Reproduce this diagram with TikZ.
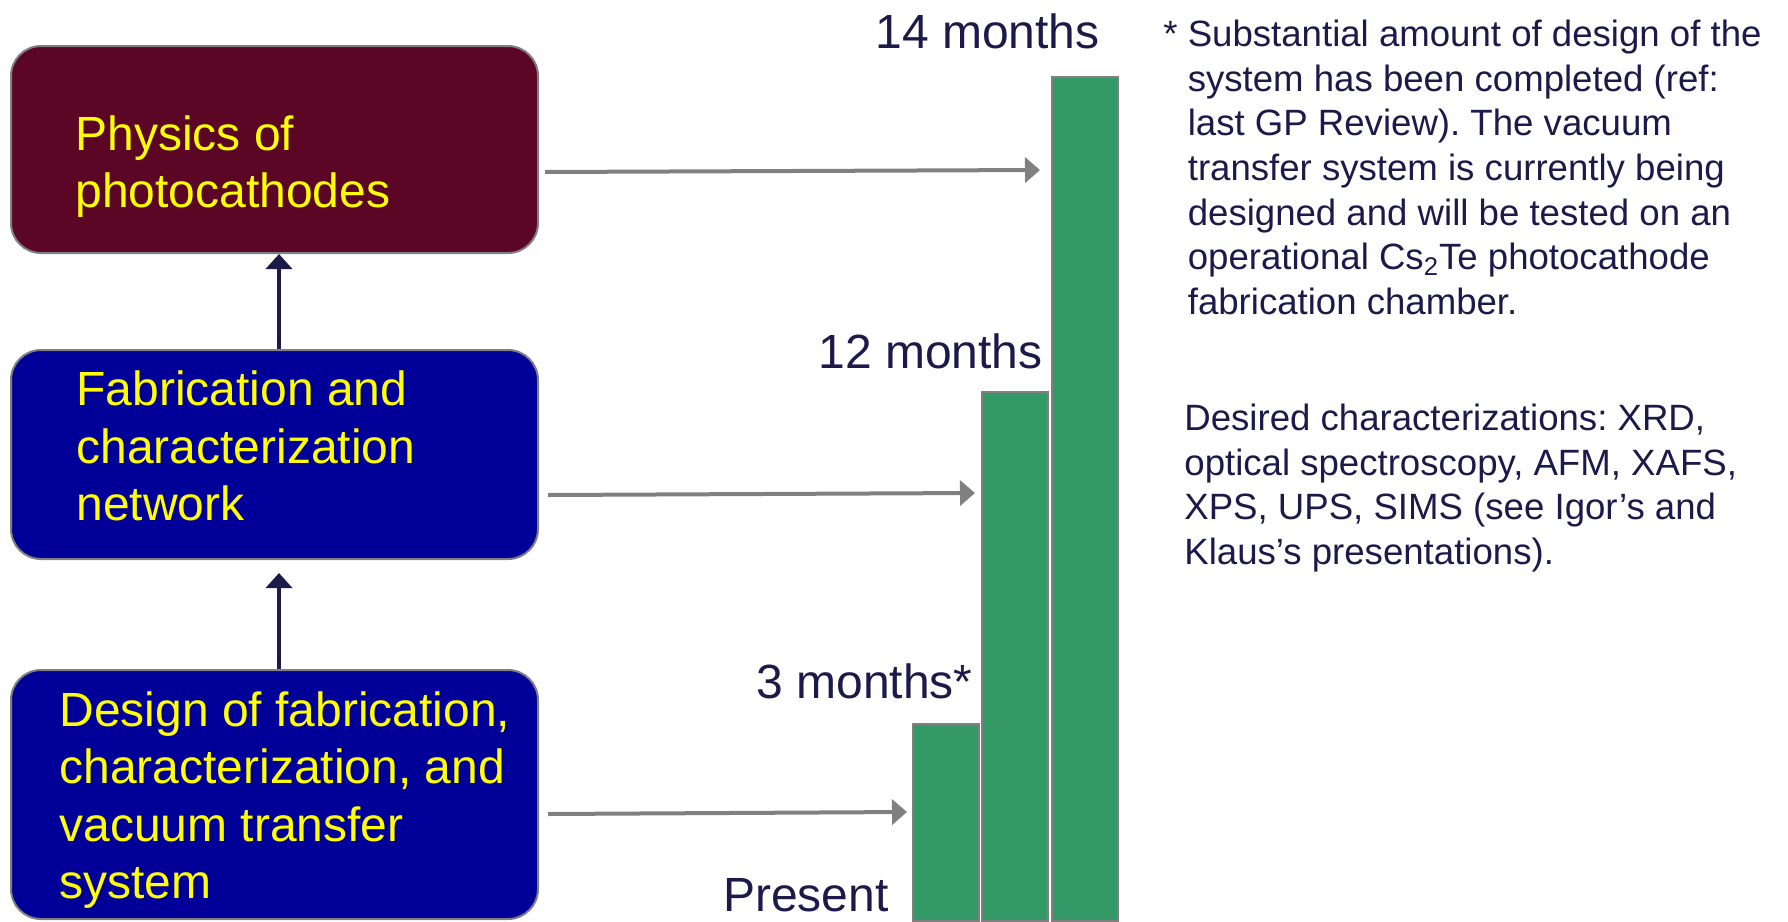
\documentclass[tikz,border=0pt]{standalone}
\usepackage{fontspec}
\setmainfont{Liberation Sans}
\usetikzlibrary{arrows.meta}
\definecolor{boxmaroon}{RGB}{92,6,38}
\definecolor{boxblue}{RGB}{0,0,153}
\definecolor{navytext}{RGB}{28,26,74}
\definecolor{bargreen}{RGB}{51,153,102}
\definecolor{bordergray}{RGB}{128,128,128}
\definecolor{boxyellow}{RGB}{255,255,0}
\begin{document}
\frenchspacing
\begin{tikzpicture}[x=0.5pt,y=-0.5pt,
  boxnode/.style={draw=bordergray, line width=1pt, rounded corners=15pt, minimum width=263.5pt, inner sep=0pt},
  boxtext/.style={text=boxyellow, align=left, inner sep=0pt, anchor=west, font=\fontsize{24}{28.8}\selectfont},
  timelabel/.style={text=navytext, inner sep=0pt, anchor=east, font=\fontsize{24}{28.8}\selectfont},
  notetext/.style={text=navytext, align=left, inner sep=0pt, anchor=west, font=\fontsize{18.3}{22.35}\selectfont},
  barnode/.style={draw=bordergray, line width=1pt, fill=bargreen, anchor=north west, minimum width=33pt, inner sep=0pt},
  grayarrow/.style={draw=bordergray, line width=2pt, -{Triangle[length=7.5pt,width=12.5pt]}},
  navyarrow/.style={draw=navytext, line width=2pt, -{Triangle[length=7.5pt,width=13pt]}}
]
\useasboundingbox (0,0) rectangle (1788,921);

% boxes
\node[boxnode, fill=boxmaroon, minimum height=103.5pt] (b1) at (274.5,149.5) {};
\node[boxnode, fill=boxblue, minimum height=104.5pt] (b2) at (274.5,454.5) {};
\node[boxnode, fill=boxblue, minimum height=124.5pt] (b3) at (274.5,794.5) {};

\node[boxtext] (t1) at (75,166.5) {Physics of\\photocathodes};
\node[boxtext] (t2) at (76,446) {Fabrication and\\characterization\\network};
\node[boxtext] (t3) at (59,800) {Design of fabrication,\\characterization, and\\vacuum transfer\\system};

% vertical arrows
\draw[navyarrow] ([xshift=2.25pt]b2.north) -- ([xshift=2.25pt]b1.south);
\draw[navyarrow] ([xshift=2.25pt]b3.north) -- ([xshift=2.25pt,yshift=-6.5pt]b2.south);

% bars
\node[barnode, minimum height=98.5pt] (bar1) at (912,723) {};
\node[barnode, minimum height=264.5pt] (bar2) at (981,391) {};
\node[barnode, minimum height=422pt] (bar3) at (1051,76) {};

% horizontal arrows
\coordinate (a1s) at (545,172);
\coordinate (a1e) at (1040,170);
\coordinate (a2s) at (548,495);
\coordinate (a2e) at (975,493);
\coordinate (a3s) at (548,814);
\coordinate (a3e) at (907,812);
\draw[grayarrow] (a1s) -- (a1e);
\draw[grayarrow] (a2s) -- (a2e);
\draw[grayarrow] (a3s) -- (a3e);

% time labels
\node[timelabel] (l14) at (1100,31) {14 months};
\node[timelabel] (l12) at (1043,351) {12 months};
\node[timelabel] (l3) at (973,681) {3 months*};
\node[timelabel] (lp) at (889,895) {Present};

% notes
\node[notetext] (n1) at (1163,167.5) {* Substantial amount of design of the\\
\hphantom{* }system has been completed (ref:\\
\hphantom{* }last GP Review). The vacuum\\
\hphantom{* }transfer system is currently being\\
\hphantom{* }designed and will be tested on an\\
\hphantom{* }operational Cs\textsubscript{2}Te photocathode\\
\hphantom{* }fabrication chamber.};
\node[notetext] (n2) at (1184,488) {Desired characterizations: XRD,\\
optical spectroscopy, AFM, XAFS,\\
XPS, UPS, SIMS (see Igor’s and\\
Klaus’s presentations).};
\end{tikzpicture}
\end{document}
